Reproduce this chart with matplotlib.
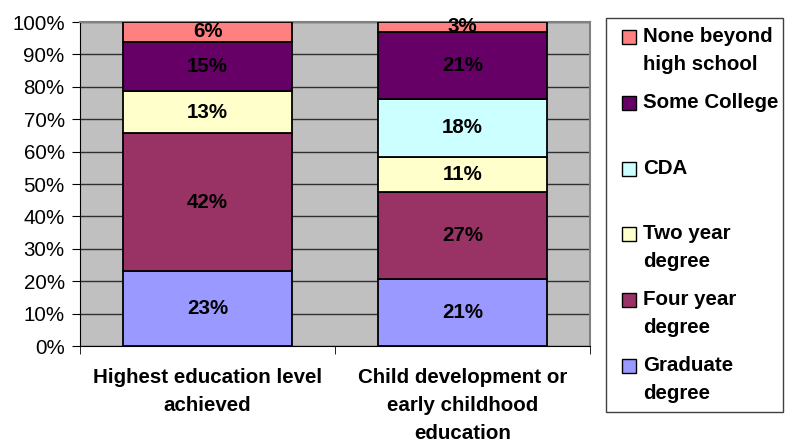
import numpy as np
import matplotlib.pyplot as plt
from matplotlib.patches import Rectangle

plt.rcParams['font.family'] = ['Liberation Sans', 'DejaVu Sans']

categories = ["Highest education level\nachieved",
              "Child development or\nearly childhood\neducation"]

# stacked bottom to top
series_names = ["Graduate degree", "Four year degree", "Two year degree",
                "CDA", "Some College", "None beyond high school"]
legend_labels = ["Graduate\ndegree", "Four year\ndegree", "Two year\ndegree",
                 "CDA", "Some College", "None beyond\nhigh school"]
graduate = [23, 21]
four_year = [42, 27]
two_year = [13, 11]
cda = [0, 18]
some_college = [15, 21]
none_beyond = [6, 3]

colors = ["#9999FF", "#993366", "#FFFFCC", "#CCFFFF", "#660066", "#FF8080"]

values = np.array([graduate, four_year, two_year, cda, some_college, none_beyond], dtype=float)
# 100% stacked: each column scaled to its total
shares = values / values.sum(axis=0) * 100

W, H = 785, 442
FS = 14.8
fig = plt.figure(figsize=(W / 100, H / 100), dpi=100)
ax = fig.add_axes([80 / W, 1 - 346 / H, 510 / W, 324 / H])
ax.set_facecolor("#C0C0C0")

x = np.arange(len(categories))
bottom = np.zeros(len(categories))
for i in range(len(series_names)):
    ax.bar(x, shares[i], 0.66, bottom=bottom, color=colors[i],
           edgecolor="black", linewidth=1.3, zorder=3)
    for j in range(len(categories)):
        if values[i][j] > 0:
            ax.text(x[j], bottom[j] + shares[i][j] / 2, "%d%%" % values[i][j],
                    ha="center", va="center", fontsize=FS, fontweight="bold",
                    zorder=4)
    bottom += shares[i]

ax.set_xlim(-0.5, len(categories) - 0.5)
ax.set_ylim(0, 100)
ax.set_yticks(np.arange(0, 101, 10))
ax.set_yticklabels(["%d%%" % v for v in range(0, 101, 10)], fontsize=FS)
ax.yaxis.grid(True, color="#303030", linewidth=1, zorder=0)

ax.set_xticks(x)
ax.set_xticklabels(categories, fontsize=FS, fontweight="bold", linespacing=1.6)
ax.set_xticks([-0.5, 0.5, 1.5], minor=True)
ax.tick_params(axis="x", which="major", length=0, pad=16)
ax.tick_params(axis="x", which="minor", length=6, direction="out")
ax.tick_params(axis="y", length=6, direction="out", pad=5)

for side in ["top", "right"]:
    ax.spines[side].set_color("#808080")
    ax.spines[side].set_linewidth(1.5)
for side in ["left", "bottom"]:
    ax.spines[side].set_color("black")

# legend box on the right
fig.patches.append(Rectangle((606 / W, 1 - 412 / H), 177 / W, 394 / H,
                             transform=fig.transFigure, facecolor="white",
                             edgecolor="#404040", linewidth=1))
y0, step = 37, 65.8
for k, i in enumerate(range(len(series_names) - 1, -1, -1)):
    yc = y0 + k * step
    fig.patches.append(Rectangle((622 / W, 1 - (yc + 7) / H), 14 / W, 14 / H,
                                 transform=fig.transFigure, facecolor=colors[i],
                                 edgecolor="black", linewidth=1))
    fig.text(643 / W, 1 - (yc - 10) / H, legend_labels[i], ha="left", va="top",
             fontsize=FS, fontweight="bold", linespacing=1.6)

fig.savefig("out.png", dpi=100)
